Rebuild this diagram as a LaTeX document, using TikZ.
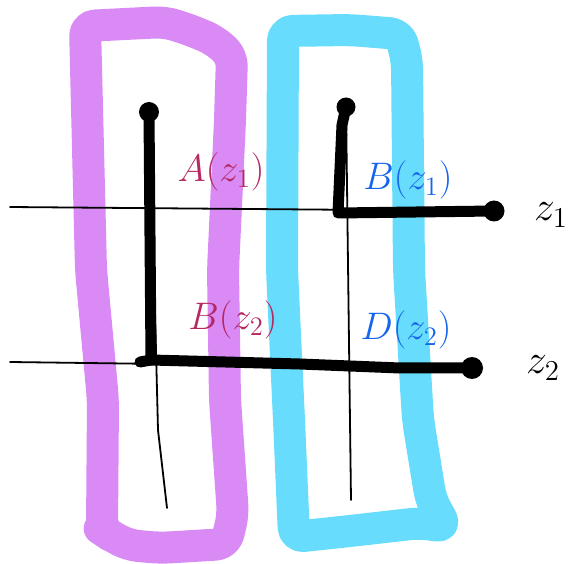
\documentclass[tikz,border=0pt]{standalone}
\usepackage{amsmath}
\usepackage{tikz}
\definecolor{lilac}{RGB}{217,138,245}
\definecolor{skycyan}{RGB}{104,220,252}
\definecolor{inkred}{RGB}{182,40,96}
\definecolor{inkblue}{RGB}{22,102,236}

\begin{document}
\begin{tikzpicture}[x=1pt,y=-1pt,frame/.style={line width=32pt,line join=round,line cap=round,rounded corners=10pt},wire/.style={line width=1.8pt,draw=black,line cap=round},leg/.style={line width=11pt,draw=black,line join=round,line cap=round},dot/.style={circle,fill=black,inner sep=0pt,minimum size=20pt},lab/.style={font=\huge,scale=1.85,inner sep=0pt},side/.style={font=\huge,scale=2,inner sep=0pt}]
\useasboundingbox (0,0) rectangle (579,564);

% the two hand drawn frames
\draw[frame,draw=lilac] (85,26)--(165,22)--(190,30)--(214,40)--(232,56)--(230,120)--(223,270)--(225,400)--(233,515)--(226,544)--(160,548)--(128,545)--(108,534)--(102,530)--(103,400)--(91,270)--cycle;
\draw[frame,draw=skycyan] (283,31)--(350,30)--(400,34)--(407,60)--(409,270)--(418,420)--(431,500)--(446,527)--(420,523)--(350,531)--(294,537)--(289,420)--(282,270)--cycle;

% thin grid lines
\coordinate (z1l) at (10,207);
\coordinate (z1r) at (490,211);
\coordinate (z2l) at (10,362);
\coordinate (z2r) at (468,368);
\coordinate (vlt) at (150,112);
\coordinate (vlb) at (167,508);
\coordinate (vrt) at (346,106);
\coordinate (vrb) at (351,500);
\draw[wire] (z1l)--(z1r);
\draw[wire] (z2l)--(z2r);
\draw[wire] (vlt)--(158,430)--(vlb);
\draw[wire] (vrt)--(vrb);

% thick legs with end dots
\node[dot] (ta) at (149,112) {};
\node[dot,minimum size=22pt] (ea) at (472,368) {};
\coordinate (ka) at (151,360);
\draw[leg] (ta.center)--(ka)--(140,362);
\draw[leg] (ka)--(300,364)--(400,368)--(ea.center);

\node[dot,minimum size=19pt] (tb) at (346,107) {};
\node[dot,minimum size=21pt] (eb) at (494,211) {};
\coordinate (kb) at (338,213);
\draw[leg] (tb.center)--(342,125)--(kb)--(eb.center);

% labels
\node[lab,text=inkred] (la) at (221,172) {$A(z_1)$};
\node[lab,text=inkblue] (lb) at (408,180) {$B(z_1)$};
\node[lab,text=inkred] (lc) at (233,320) {$B(z_2)$};
\node[lab,text=inkblue] (ld) at (406,330) {$D(z_2)$};
\node[side] (s1) at (551,215) {$z_1$};
\node[side] (s2) at (543,368) {$z_2$};
\end{tikzpicture}
\end{document}
